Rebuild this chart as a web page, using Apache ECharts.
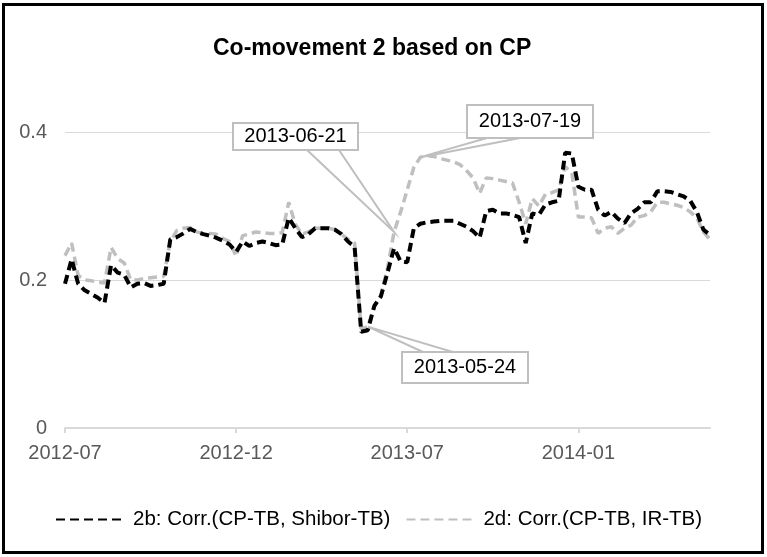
<!DOCTYPE html>
<html>
<head>
<meta charset="utf-8">
<script src="https://cdn.jsdelivr.net/npm/echarts@6/dist/echarts.min.js"></script>
<style>
html, body { margin: 0; padding: 0; background: #fff; }
#chart { width: 767px; height: 557px; }
</style>
</head>
<body>
<div id="chart"></div>
<script>
// weekly observations (Fridays)
var START_DATE = '2012-07-06';
var N_WEEKS = 99;
var TICK_STEP = 26;
var xTickLabels = ['2012-07', '2012-12', '2013-07', '2014-01'];

// 2b: Corr.(CP-TB, Shibor-TB)
var corrShibor = [
    0.195, 0.228, 0.195, 0.186, 0.181, 0.176, 0.169, 0.220, 0.210, 0.207,
    0.190, 0.195, 0.196, 0.192, 0.193, 0.195, 0.255, 0.258, 0.263, 0.269,
    0.265, 0.262, 0.260, 0.257, 0.253, 0.248, 0.238, 0.252, 0.246, 0.250,
    0.252, 0.250, 0.247, 0.248, 0.284, 0.270, 0.258, 0.262, 0.270, 0.270,
    0.270, 0.268, 0.262, 0.252, 0.245, 0.130, 0.132, 0.165, 0.178, 0.210,
    0.243, 0.225, 0.224, 0.270, 0.276, 0.278, 0.279, 0.280, 0.280, 0.280,
    0.276, 0.272, 0.266, 0.257, 0.293, 0.295, 0.290, 0.290, 0.288, 0.285,
    0.250, 0.290, 0.288, 0.302, 0.305, 0.307, 0.372, 0.371, 0.326, 0.322,
    0.322, 0.295, 0.287, 0.292, 0.283, 0.277, 0.290, 0.296, 0.305, 0.305,
    0.320, 0.320, 0.319, 0.316, 0.313, 0.307, 0.292, 0.268, 0.261
];

// 2d: Corr.(CP-TB, IR-TB)
var corrIR = [
    0.233, 0.250, 0.206, 0.200, 0.199, 0.197, 0.196, 0.244, 0.229, 0.223,
    0.200, 0.200, 0.202, 0.203, 0.204, 0.205, 0.252, 0.267, 0.270, 0.271,
    0.265, 0.263, 0.263, 0.262, 0.256, 0.252, 0.232, 0.260, 0.262, 0.265,
    0.264, 0.263, 0.263, 0.264, 0.305, 0.275, 0.262, 0.265, 0.270, 0.270,
    0.270, 0.268, 0.262, 0.255, 0.250, 0.134, 0.137, 0.164, 0.180, 0.216,
    0.265, 0.292, 0.322, 0.352, 0.366, 0.368, 0.367, 0.364, 0.362, 0.360,
    0.356, 0.348, 0.338, 0.317, 0.338, 0.337, 0.335, 0.333, 0.331, 0.305,
    0.276, 0.310, 0.300, 0.316, 0.318, 0.322, 0.353, 0.345, 0.285, 0.285,
    0.284, 0.263, 0.270, 0.272, 0.263, 0.270, 0.274, 0.285, 0.287, 0.292,
    0.305, 0.305, 0.303, 0.301, 0.298, 0.292, 0.284, 0.265, 0.255
];

var calloutDates = ['2013-06-21', '2013-07-19', '2013-05-24'];

// box position and where the pointer leaves the box, in pixels
var calloutLayout = {
    '2013-06-21': { x: 233, y: 123, w: 125, h: 27, base: [[307, 150], [339, 150]] },
    '2013-07-19': { x: 467, y: 105, w: 126, h: 33, base: [[487, 138], [520, 138]] },
    '2013-05-24': { x: 402, y: 352, w: 126, h: 31, base: [[423, 352], [453, 352]] }
};

function weekly_dates(start, n)
{
    var out = [];
    var t = Date.parse(start + 'T00:00:00Z');
    for (var i = 0; i < n; i++) {
        out.push(new Date(t + i * 7 * 86400000).toISOString().slice(0, 10));
    }
    return out;
}

var dates = weekly_dates(START_DATE, N_WEEKS);
var FONT = 'Liberation Sans, Arial, sans-serif';

var chart = echarts.init(document.getElementById('chart'));

var option = {
    animation: false,
    backgroundColor: '#fff',
    title: {
        text: 'Co-movement 2 based on CP',
        left: 208,
        top: 32,
        textStyle: {
            fontFamily: FONT,
            fontSize: 23,
            fontWeight: 'bold',
            color: '#000'
        }
    },
    grid: {
        left: 65,
        right: 57,
        top: 132,
        bottom: 129
    },
    legend: {
        left: 50,
        top: 504,
        itemWidth: 68,
        itemHeight: 10,
        itemGap: 15,
        itemStyle: { opacity: 0 },
        textStyle: {
            fontFamily: FONT,
            fontSize: 20.5,
            color: '#000',
            padding: [0, 0, 0, 4]
        },
        data: ['2b: Corr.(CP-TB, Shibor-TB)', '2d: Corr.(CP-TB, IR-TB)']
    },
    xAxis: {
        type: 'category',
        boundaryGap: false,
        data: dates,
        axisLine: { lineStyle: { color: '#d9d9d9', width: 2 } },
        axisTick: {
            show: true,
            interval: TICK_STEP - 1,
            length: 5,
            lineStyle: { color: '#d9d9d9', width: 2 }
        },
        axisLabel: {
            interval: TICK_STEP - 1,
            margin: 15,
            fontFamily: FONT,
            fontSize: 20,
            color: '#595959',
            formatter: function (value, index) {
                return xTickLabels[Math.round(index / TICK_STEP)] || '';
            }
        },
        splitLine: { show: false }
    },
    yAxis: {
        type: 'value',
        min: 0,
        max: 0.4,
        interval: 0.2,
        axisLine: { show: false },
        axisTick: { show: false },
        axisLabel: {
            margin: 18,
            fontFamily: FONT,
            fontSize: 20,
            color: '#595959'
        },
        splitLine: { lineStyle: { color: '#d9d9d9', width: 1 } }
    },
    series: [
        {
            name: '2b: Corr.(CP-TB, Shibor-TB)',
            type: 'line',
            data: corrShibor,
            symbol: 'none',
            z: 3,
            lineStyle: { color: '#000', width: 4, type: [9, 5] },
            itemStyle: { color: '#000' }
        },
        {
            name: '2d: Corr.(CP-TB, IR-TB)',
            type: 'line',
            data: corrIR,
            symbol: 'none',
            z: 2,
            lineStyle: { color: '#bfbfbf', width: 3.5, type: [9, 5] },
            itemStyle: { color: '#bfbfbf' }
        }
    ]
};

chart.setOption(option);

// callouts pointing at the IR series, plus the outer frame
var elements = [{
    type: 'rect',
    shape: { x: 3.5, y: 4.5, width: 759, height: 548 },
    style: { fill: 'none', stroke: '#000', lineWidth: 3 },
    z: 200
}];

calloutDates.forEach(function (d) {
    var idx = dates.indexOf(d);
    var tip = chart.convertToPixel({ gridIndex: 0 }, [idx, corrIR[idx]]);
    var lay = calloutLayout[d];
    elements.push({
        type: 'polygon',
        shape: { points: [lay.base[0], tip, lay.base[1]] },
        style: { fill: '#fff', stroke: '#bfbfbf', lineWidth: 2 },
        z: 100
    });
    elements.push({
        type: 'rect',
        shape: { x: lay.x, y: lay.y, width: lay.w, height: lay.h },
        style: { fill: '#fff', stroke: '#bfbfbf', lineWidth: 2 },
        z: 101
    });
    elements.push({
        type: 'text',
        x: lay.x + lay.w / 2,
        y: lay.y + lay.h / 2,
        style: {
            text: d,
            fill: '#000',
            font: '20px ' + FONT,
            align: 'center',
            verticalAlign: 'middle'
        },
        z: 102
    });
});

chart.setOption({ graphic: { elements: elements } });
</script>
</body>
</html>
